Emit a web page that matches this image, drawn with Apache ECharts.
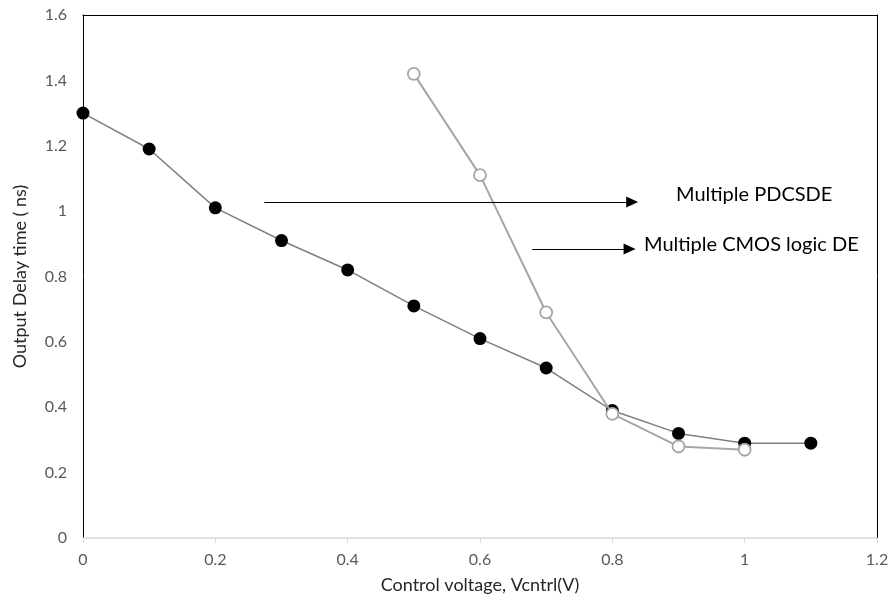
<!DOCTYPE html>
<html>
<head>
<meta charset="utf-8">
<script src="https://cdn.jsdelivr.net/npm/echarts@6/dist/echarts.min.js"></script>
<style>
  html, body { margin: 0; padding: 0; background: #fff; }
  #main { width: 889px; height: 605px; }
</style>
</head>
<body>
<div id="main"></div>
<script>
// data
var xTicks = [0, 0.2, 0.4, 0.6, 0.8, 1, 1.2];
var pdcsdeX = [0, 0.1, 0.2, 0.3, 0.4, 0.5, 0.6, 0.7, 0.8, 0.9, 1.0, 1.1];
var pdcsdeY = [1.30, 1.19, 1.01, 0.91, 0.82, 0.71, 0.61, 0.52, 0.39, 0.32, 0.29, 0.29];
var cmosX = [0.5, 0.6, 0.7, 0.8, 0.9, 1.0];
var cmosY = [1.42, 1.11, 0.69, 0.38, 0.28, 0.27];
// annotation arrows [x0, x1, y] in data units
var arrow1 = [0.274, 0.830, 1.028];
var arrow2 = [0.679, 0.826, 0.884];

function pairs(xs, ys) {
	var out = [];
	for (var i = 0; i < xs.length; i++) out.push([xs[i], ys[i]]);
	return out;
}

var FONT = 'Lato, "Open Sans", sans-serif';
var myChart = echarts.init(document.getElementById('main'));
var option = {
	animation: false,
	backgroundColor: '#fff',
	grid: { left: 83, right: 12, top: 15, bottom: 67, containLabel: false, outerBoundsMode: 'none' },
	xAxis: [{
		type: 'value',
		min: 0, max: 1.2, interval: 0.2,
		name: 'Control voltage, Vcntrl(V)',
		nameLocation: 'middle',
		nameGap: 38,
		nameTextStyle: { fontFamily: FONT, fontSize: 18, color: '#262626' },
		axisLine: { lineStyle: { color: '#d9d9d9', width: 1.5 } },
		axisTick: { show: true, length: 5, lineStyle: { color: '#d9d9d9' } },
		axisLabel: { fontFamily: FONT, fontSize: 16, color: '#595959', margin: 14,
			formatter: function (v) { return String(+v.toFixed(1)); } },
		splitLine: { show: false }
	}, {
		type: 'value', position: 'top', min: 0, max: 1.2,
		axisLine: { show: true, onZero: false, lineStyle: { color: '#000', width: 1 } },
		axisTick: { show: false }, axisLabel: { show: false }, splitLine: { show: false }
	}],
	yAxis: [{
		type: 'value',
		min: 0, max: 1.6, interval: 0.2,
		name: 'Output Delay time ( ns)',
		nameLocation: 'middle',
		nameGap: 54,
		nameTextStyle: { fontFamily: FONT, fontSize: 18, color: '#262626' },
		axisLine: { show: true, onZero: false, lineStyle: { color: '#000', width: 1 } },
		axisTick: { show: false },
		axisLabel: { fontFamily: FONT, fontSize: 16, color: '#595959', margin: 16,
			formatter: function (v) { return String(+v.toFixed(1)); } },
		splitLine: { show: false }
	}, {
		type: 'value', position: 'right', min: 0, max: 1.6,
		axisLine: { show: true, onZero: false, lineStyle: { color: '#000', width: 1 } },
		axisTick: { show: false }, axisLabel: { show: false }, splitLine: { show: false }
	}],
	series: [{
		name: 'Multiple PDCSDE',
		type: 'line',
		data: pairs(pdcsdeX, pdcsdeY),
		symbol: 'circle',
		symbolSize: 13,
		itemStyle: { color: '#000' },
		lineStyle: { color: '#7f7f7f', width: 1.5 },
		z: 3,
		markLine: {
			silent: true,
			symbol: ['none', 'triangle'],
			symbolSize: [11, 12],
			label: { show: false },
			lineStyle: { color: '#000', width: 1.2, type: 'solid' },
			data: [
				[{ coord: [arrow1[0], arrow1[2]] }, { coord: [arrow1[1], arrow1[2]] }],
				[{ coord: [arrow2[0], arrow2[2]] }, { coord: [arrow2[1], arrow2[2]] }]
			]
		}
	}, {
		name: 'Multiple CMOS logic DE',
		type: 'line',
		data: pairs(cmosX, cmosY),
		symbol: 'circle',
		symbolSize: 12,
		itemStyle: { color: '#fff', borderColor: '#a6a6a6', borderWidth: 1.8 },
		lineStyle: { color: '#a6a6a6', width: 2 },
		z: 4
	}],
	graphic: [{
		type: 'text', left: 676, top: 185,
		style: { text: 'Multiple PDCSDE', fontFamily: FONT, fontSize: 20, fill: '#000' }
	}, {
		type: 'text', left: 644, top: 235,
		style: { text: 'Multiple CMOS logic DE', fontFamily: FONT, fontSize: 20, fill: '#000' }
	}]
};
myChart.setOption(option);
</script>
</body>
</html>
